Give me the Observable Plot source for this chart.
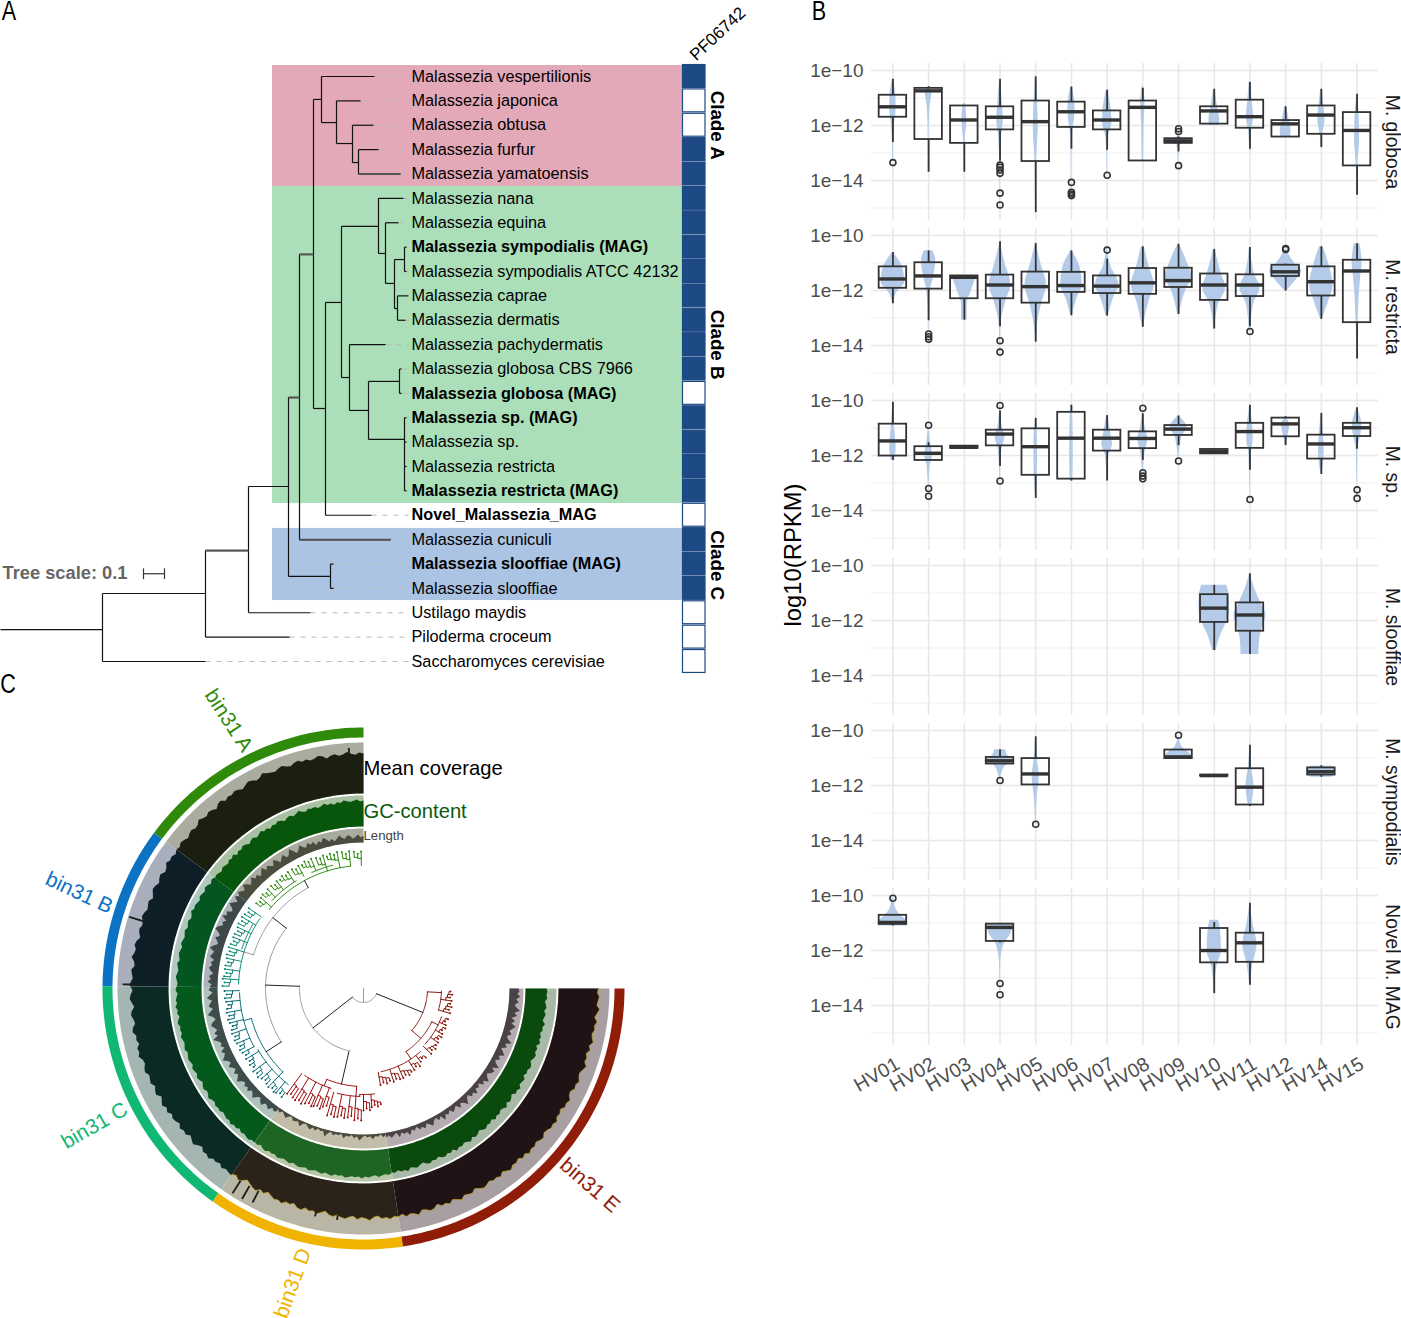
<!DOCTYPE html>
<html><head><meta charset="utf-8">
<script src="https://cdn.jsdelivr.net/npm/d3@7"></script>
<script src="https://cdn.jsdelivr.net/npm/@observablehq/plot@0.6"></script>
<style>
html,body{margin:0;padding:0;background:#fff;width:1401px;height:1318px;overflow:hidden;font-family:"Liberation Sans",sans-serif}
#page{position:relative;width:1401px;height:1318px}
#page svg{position:absolute;overflow:visible;background:transparent}
.abs{position:absolute;white-space:nowrap;transform:translate(-50%,-50%)}
</style></head><body><div id="page"></div>
<script>
// ---------- Panel A data ----------
const taxa = ["Malassezia vespertilionis","Malassezia japonica","Malassezia obtusa","Malassezia furfur","Malassezia yamatoensis","Malassezia nana","Malassezia equina","Malassezia sympodialis (MAG)","Malassezia sympodialis ATCC 42132","Malassezia caprae","Malassezia dermatis","Malassezia pachydermatis","Malassezia globosa CBS 7966","Malassezia globosa (MAG)","Malassezia sp. (MAG)","Malassezia sp.","Malassezia restricta","Malassezia restricta (MAG)","Novel_Malassezia_MAG","Malassezia cuniculi","Malassezia slooffiae (MAG)","Malassezia slooffiae","Ustilago maydis","Piloderma croceum","Saccharomyces cerevisiae"];
const boldTaxa = [7,13,14,17,18,20];
const pfAbsent = [1,2,13,18,22,23,24];
// tree: [x1, x2, row] horizontal branches
const branches = [[0,102,22.69],[102,205,24],[102,205,21.21],[205,289,23],[205,248,19.45],[248,310,22],[248,288,16.82],[288,330,20.51],[330,333,20],[330,333,21],[288,299,13.17],[299,390,19],[299,313,7.3],[313,321,0.94],[321,374,0],[321,336,1.89],[336,360,1],[336,352,2.75],[352,373,2],[352,358,3.53],[358,378,3],[358,400,4],[313,325,13.62],[325,371,18],[325,341,9.27],[341,378,6.15],[378,403,5],[378,385,7.26],[385,398,6],[385,394,8.49],[394,404,7.51],[404,406,7],[404,406,8],[394,397,9.52],[397,408,9],[397,405,10],[341,349,12.35],[349,385,11],[349,368,13.7],[368,399,12.51],[399,401,12],[399,401,13],[368,404,14.89],[404,406,14],[404,406,15],[404,406,16],[404,406,17]];
// tree: [x, row1, row2] vertical connectors
const connectors = [[102,21.21,24],[205,19.45,23],[248,16.82,22],[288,13.17,20.51],[330,20,21],[299,7.3,19],[313,0.94,13.62],[321,0,1.89],[336,1,2.75],[352,2,3.53],[358,3,4],[325,9.27,18],[341,6.15,12.35],[378,5,7.26],[385,6,8.49],[394,7.51,9.52],[404,7,8],[397,9,10],[349,11,13.7],[368,12.51,14.89],[399,12,13],[404,14,17]];
const thickBranches = [[358,400,4],[299,390,19],[299,313,7.3],[288,299,13.17],[205,248,19.45]];
const tipEnds = [374,360,373,378,400,403,398,406,406,408,405,385,401,401,406,406,406,406,371,390,333,333,310,289,205];
const cladeBands = [["#e4a9b8",-0.45,4.51],["#abdfb9",4.51,17.52],["#abc4e4",18.54,21.5]];
const cladeLabels = [["Clade A",2],["Clade B",11],["Clade C",20.05]];

// ---------- Panel B data (log10 values) ----------
const visits = ["HV01","HV02","HV03","HV04","HV05","HV06","HV07","HV08","HV09","HV10","HV11","HV12","HV14","HV15"];
const species = ["M. globosa","M. restricta","M. sp.","M. slooffiae","M. sympodialis","Novel M. MAG"];
// [visit number, whisker top, q3, median, q1, whisker low, ...outliers]
const globosaBoxes = [[1,-10.32,-10.9,-11.32,-11.7,-12.62,-13.35],[2,-10.59,-10.65,-10.74,-12.51,-13.7],[3,-11.29,-11.29,-11.8,-12.65,-13.7],[4,-10.32,-11.32,-11.7,-12.16,-13.3,-13.44,-13.52,-13.62,-13.74,-14.46,-14.89],[5,-10.23,-11.11,-11.86,-13.31,-15.17],[6,-10.6,-11.15,-11.5,-12.07,-12.86,-14.07,-14.43,-14.49,-14.55],[7,-10.72,-11.47,-11.8,-12.16,-12.9,-13.81],[8,-10.65,-11.11,-11.34,-13.29,-13.29],[9,-12.42,-12.48,-12.56,-12.65,-12.96,-12.12,-12.22,-13.46],[10,-10.68,-11.32,-11.47,-11.95,-11.95],[11,-10.44,-11.08,-11.68,-12.1,-12.86],[12,-11.32,-11.82,-11.94,-12.42,-12.42],[13,-10.68,-11.29,-11.62,-12.32,-12.8],[14,-10.86,-11.53,-12.18,-13.47,-14.54]];
const restrictaBoxes = [[1,-10.62,-11.14,-11.58,-11.92,-12.48],[2,-10.56,-10.99,-11.47,-11.95,-13.1,-13.58,-13.68,-13.77],[3,-11.47,-11.47,-11.52,-12.3,-13.08],[4,-10.23,-11.44,-11.8,-12.3,-13.32,-13.83,-14.24],[5,-10.29,-11.33,-11.86,-12.46,-13.88],[6,-10.56,-11.34,-11.82,-12.07,-12.92],[7,-10.86,-11.47,-11.84,-12.11,-12.93,-10.53],[8,-10.41,-11.2,-11.72,-12.14,-13.34],[9,-10.32,-11.19,-11.64,-11.89,-12.87],[10,-10.51,-11.4,-11.8,-12.36,-13.4],[11,-10.44,-11.43,-11.8,-12.22,-13.32,-13.49],[12,-11.04,-11.08,-11.32,-11.49,-12.02,-10.47,-10.51],[13,-10.41,-11.14,-11.68,-12.2,-13.05],[14,-10.3,-10.9,-11.29,-13.17,-14.49]];
const spBoxes = [[1,-10.06,-10.86,-11.47,-12.02,-12.18],[2,-11.54,-11.68,-11.92,-12.18,-12.18,-10.9,-13.2,-13.48],[3,-11.66,-11.66,-11.7,-11.74,-11.74],[4,-10.38,-11.08,-11.22,-11.65,-12.4,-10.18,-12.93],[5,-10.65,-11.03,-11.68,-12.72,-13.56],[6,-10.17,-10.43,-11.37,-12.86,-12.93],[7,-10.55,-11.08,-11.37,-11.84,-12.93],[8,-10.48,-11.14,-11.38,-11.75,-12.18,-10.28,-12.63,-12.75,-12.85],[9,-10.56,-10.91,-11.04,-11.27,-11.64,-12.2],[10,-11.76,-11.78,-11.85,-11.94,-11.96],[11,-10.17,-10.83,-11.13,-11.74,-12.54,-13.6],[12,-10.59,-10.64,-10.85,-11.32,-11.64],[13,-10.47,-11.26,-11.58,-12.13,-12.69],[14,-10.26,-10.83,-10.99,-11.31,-11.77,-13.25,-13.56]];
const slooffiaeBoxes = [[10,-10.72,-11.06,-11.55,-12.07,-13.09],[11,-10.3,-11.36,-11.8,-12.39,-13.24]];
const sympodialisBoxes = [[4,-10.7,-10.98,-11.1,-11.22,-11.22,-11.82],[5,-10.23,-11.02,-11.58,-11.98,-11.98,-13.41],[9,-10.71,-10.71,-10.96,-11.02,-11.05,-10.17],[10,-11.62,-11.62,-11.64,-11.66,-11.66],[11,-10.54,-11.39,-12.06,-12.71,-12.76],[13,-11.28,-11.36,-11.5,-11.62,-11.7]];
const novelBoxes = [[1,-10.72,-10.72,-10.98,-11.05,-11.11,-10.1],[4,-11.04,-11.04,-11.16,-11.67,-11.73,-13.2,-13.61],[10,-10.98,-11.2,-12,-12.45,-13.57],[11,-10.28,-11.37,-11.72,-12.43,-13.26]];
// [visit number, [log value, half width], ...]
const globosaViolins = [[1,[-10.3,.01],[-10.9,.08],[-11.4,.09],[-12,.04],[-12.6,.015],[-13.3,.01]],[2,[-10.6,.02],[-10.8,.09],[-11.4,.035],[-12.5,.01],[-13.7,.01]],[3,[-11.2,.03],[-11.8,.07],[-12.6,.02],[-13.6,.005]],[4,[-10.4,.02],[-11.3,.07],[-11.8,.09],[-12.4,.04],[-13.4,.01],[-14.9,.005]],[5,[-10.2,.01],[-11.2,.05],[-12,.07],[-13.2,.025],[-15.1,.005]],[6,[-10.6,.02],[-11.3,.1],[-11.7,.09],[-12.2,.035],[-13,.01],[-14.5,.005]],[7,[-10.7,.02],[-11.5,.12],[-11.9,.13],[-12.4,.04],[-13,.01],[-13.8,.005]],[8,[-10.6,.03],[-11.2,.06],[-12,.035],[-13.3,.02]],[9,[-12.1,.005],[-12.4,.03],[-12.56,.35],[-12.7,.05],[-13.4,.005]],[10,[-10.7,.02],[-11.3,.09],[-11.8,.15],[-12,.13]],[11,[-10.4,.02],[-11.1,.06],[-11.7,.1],[-12.2,.04],[-12.9,.01]],[12,[-11.3,.02],[-11.8,.1],[-12.2,.15],[-12.42,.14]],[13,[-10.7,.02],[-11.3,.07],[-11.8,.1],[-12.3,.04],[-12.8,.01]],[14,[-10.9,.01],[-11.7,.06],[-12.5,.07],[-13.4,.025],[-14.5,.005]]];
const restrictaViolins = [[1,[-10.62,.01],[-11.2,.28],[-11.7,.33],[-12.1,.1],[-12.48,.01]],[2,[-10.55,.12],[-10.9,.2],[-11.5,.14],[-12,.05],[-13,.01],[-13.77,.004]],[3,[-11.47,.35],[-12,.2],[-12.5,.08],[-13.08,.08]],[4,[-10.25,.005],[-11,.14],[-11.8,.3],[-12.4,.16],[-13.3,.02],[-14.2,.003]],[5,[-10.3,.01],[-11,.14],[-11.8,.3],[-12.5,.16],[-13.3,.04],[-13.88,.01]],[6,[-10.56,.02],[-11.2,.25],[-11.8,.3],[-12.3,.15],[-12.92,.02]],[7,[-10.5,.01],[-11.1,.1],[-11.8,.33],[-12.3,.17],[-12.93,.03]],[8,[-10.41,.04],[-11.1,.17],[-11.8,.32],[-12.4,.17],[-13.34,.01]],[9,[-10.32,.02],[-11,.25],[-11.5,.37],[-12,.2],[-12.87,.02]],[10,[-10.5,.02],[-11.4,.2],[-11.9,.32],[-12.5,.12],[-13.4,.02]],[11,[-10.44,.02],[-11.4,.13],[-11.9,.28],[-12.5,.1],[-13.49,.02]],[12,[-10.5,.01],[-11,.25],[-11.3,.45],[-11.6,.3],[-12.02,.02]],[13,[-10.41,.05],[-11,.2],[-11.8,.33],[-12.4,.2],[-13.05,.02]],[14,[-10.3,.08],[-11,.14],[-11.5,.1],[-13,.03],[-14.49,.01]]];
const spViolins = [[1,[-10.1,.004],[-11,.05],[-11.7,.09],[-12.18,.05]],[2,[-10.9,.005],[-11.5,.05],[-12,.11],[-12.4,.04],[-13.48,.003]],[4,[-10.18,.005],[-11,.07],[-11.3,.14],[-11.8,.05],[-12.93,.005]],[5,[-10.65,.01],[-11.5,.05],[-12.2,.05],[-13.56,.004]],[6,[-10.17,.02],[-11.3,.05],[-12.3,.05],[-12.93,.03]],[7,[-10.55,.02],[-11.2,.1],[-11.6,.15],[-12,.05],[-12.93,.005]],[8,[-10.3,.005],[-11,.07],[-11.4,.14],[-11.9,.06],[-12.85,.005]],[9,[-10.56,.01],[-11,.24],[-11.3,.1],[-12.2,.005]],[11,[-10.17,.01],[-11,.08],[-11.4,.09],[-12,.03],[-13.6,.003]],[12,[-10.6,.02],[-10.9,.11],[-11.3,.06],[-11.64,.01]],[13,[-10.47,.005],[-11.3,.06],[-11.8,.08],[-12.69,.01]],[14,[-10.26,.01],[-10.9,.13],[-11.2,.11],[-11.8,.02],[-13.56,.003]]];
const slooffiaeViolins = [[10,[-10.72,.35],[-11.1,.42],[-11.6,.43],[-12.1,.33],[-12.6,.16],[-13.09,.05]],[11,[-10.3,.01],[-10.8,.12],[-11.4,.32],[-11.8,.45],[-12.3,.34],[-12.7,.27],[-13.24,.25]]];
const sympodialisViolins = [[4,[-10.7,.15],[-10.95,.25],[-11.1,.42],[-11.3,.14],[-11.82,.005]],[5,[-10.23,.005],[-11.1,.05],[-11.7,.1],[-12.4,.04],[-13.41,.01]],[9,[-10.17,.005],[-10.6,.1],[-10.9,.35],[-11.02,.35]],[11,[-10.54,.01],[-11.4,.05],[-12,.11],[-12.7,.05]],[13,[-11.3,.3],[-11.45,.41],[-11.7,.3]]];
const novelViolins = [[1,[-10.1,.03],[-10.4,.06],[-10.7,.2],[-11,.42],[-11.11,.4]],[4,[-11.04,.37],[-11.4,.3],[-11.8,.1],[-12.5,.015],[-13.6,.003]],[10,[-10.9,.12],[-11.2,.17],[-12,.2],[-12.6,.07],[-13.5,.01]],[11,[-10.28,.005],[-11,.08],[-11.8,.2],[-12.5,.08],[-13.26,.01]]];

// ---------- Panel C data ----------
const binNames = ["bin31 A","bin31 B","bin31 C","bin31 D","bin31 E"];
const binEdges = [0,53.4,89.5,144.7,188.7,270];   // degrees counter-clockwise from 12 o'clock
const coverageA = [40,41,39,40,42,40,39,41,40,38,41,42,40,39,41,40,42,41,39,40,42,41,39,40,41,43,40,39,41,42,40,38,40,41,39,40,38,41,40,37,39,40,38,39,41,38,37,39,38,36,38,39,37,38];
const coverageB = [38,36,38,37,39,36,35,38,37,35,37,38,36,34,37,36,35,37,38,36,35,37,36,34,37,38,36,37,39,36,35,38,37,36,38,39];
const coverageC = [38,36,38,39,37,35,38,39,37,36,39,40,37,38,36,39,38,40,37,36,38,39,36,37,38,35,37,38,34,36,38,35,37,34,36,35,33,36,34,35,32,34,36,33,31,34,33,35,32,33,31,34,32,33,34];
const coverageD = [33,31,34,32,29,31,33,34,31,33,30,32,34,33,35,32,33,31,34,35,32,34,33,35,33,31,34,35,33,35,36,34,33,36,34,35,37,34,33,36,35,37,35,36];
const coverageE = [36,34,37,35,36,38,34,35,37,36,33,36,35,37,34,36,38,35,36,37,34,36,38,37,35,37,36,38,35,37,39,36,37,35,38,36,39,37,38,36,38,39,36,37,39,38,40,37,38,36,39,38,40,37,36,39,38,40,38,37,39,41,38,39,37,40,38,41,39,38,40,39,41,38,40,42,39,40,41,39,40];
const gcA = [26,25,27,26,25,26,27,25,26,24,26,25,27,25,24,26,25,26,24,25,27,25,24,26,25,23,25,26,24,25,23,25,24,26,24,23,25,24,22,24,25,23,24,22,25,23,24,22,23,24,22,23,24,23];
const gcB = [24,25,23,25,26,24,25,26,24,25,26,25,27,25,24,26,25,24,26,25,24,25,26,24,25,26,25,24,26,25,24,25,26,25,24,25];
const gcC = [25,26,24,25,26,25,27,25,26,24,26,27,25,26,25,27,26,25,26,27,25,26,27,26,25,27,26,25,27,26,24,26,27,25,26,28,26,25,27,26,27,25,26,27,26,28,26,27,25,27,26,27,28,26,27];
const gcD = [26,27,25,27,28,26,27,26,28,27,26,27,28,26,27,28,27,26,28,27,26,27,28,26,27,28,26,27,26,28,27,26,27,26,28,26,27,26,25,27,26,25,26,25];
const gcE = [24,25,23,25,24,26,23,24,25,23,22,24,25,23,24,22,24,25,23,24,22,25,23,24,22,23,25,22,24,23,21,23,24,22,23,21,24,22,23,21,22,24,21,23,22,20,23,22,24,21,22,23,20,22,21,23,22,20,22,23,21,22,20,23,21,22,20,22,21,23,20,21,22,20,22,21,20,22,21,22,21];
const lengthA = [7,5,8,6,4,7,8,5,6,9,6,4,7,5,8,10,6,8,5,9,7,10,6,8,11,7,5,9,12,7,6,10,8,5,9,11,6,8,10,7,12,9,6,10,8,12,9,7,11,13,8,10,12,9];
const lengthB = [9,12,7,10,13,8,6,11,9,13,7,10,8,12,14,9,7,11,8,6,10,13,8,9,11,6,9,7,10,8,5,9,7,10,6,8];
const lengthC = [7,9,5,8,11,6,8,10,6,9,12,7,5,9,11,8,6,10,7,13,9,6,8,5,10,7,9,12,8,6,10,7,5,9,6,8,11,7,5,8,6,9,5,7,10,6,4,7,9,5,6,8,4,6,5];
const lengthD = [2,4,1,3,5,2,1,4,3,2,6,2,1,3,5,2,4,1,3,2,7,3,1,4,2,3,1,5,2,3,1,4,2,6,3,1,3,2,5,2,3,1,4,2];
const lengthE = [5,3,6,4,2,7,3,5,4,8,3,5,2,6,4,7,3,5,8,4,2,6,3,9,4,6,3,7,5,3,8,4,6,10,5,3,7,5,9,4,6,3,8,5,10,6,4,7,9,5,11,6,4,8,5,10,7,4,9,6,12,7,5,9,6,8,11,6,9,5,10,7,12,8,6,10,7,11,8,10,9];
// coverage spikes: [angle, tip radius]
const coverageSpikes = [[3.5,241],[73,245],[89,241],[147.4,243],[150,243],[152.6,241],[168,233],[173.5,233]];
// backbone of the contig tree: [colour group, radius, angle from, angle to]
const treeArcs = [["root",14,128,248],["root",64,88,165.5],["root",98,52,123],["root",115,28.7,73],
 ["A",123,6,50],["A",127,14,24],["A",127,32,46],["B",125,56,88],["B",128,60,72],["C",116,105,136],["C",124,92,118],["C",122,120,142],
 ["D",98,158,176],["D",105,146,162],["D",108,166,178],["D",106,178,186],["E",64,229,267],["E",78,254,268],["E",76,214,244],["E",85,192,222],["E",83,228,250]];
// radial branches: [colour group, angle, radius from, radius to]
const treeLinks = [["root",180,0,14],["link",128,14,64],["link",248,14,64],["link",88,64,98],["link",167,64,98],["link",52,98,115],["link",123,98,116],["link",28.7,115,123],["root",73,115,125],
 ["C",105,116,124],["C",136,116,122],["D",158,98,105],["D",176,98,108],["D",178,108,106],["E",267,64,78],["E",229,64,76],["E",214,76,85],["E",244,76,83]];
// leaf clusters: [colour group, parent radius, cluster radius, tip radius, [leaf angles]]
const leafClusters = [
 ["A",123,130,137,[1,2.5,4]],["A",123,130,138,[6,7.5,9]],["A",123,131,139,[11,12.5,14,15.5]],["A",123,130,139,[17,18.5,20]],["A",127,132,140,[22,23.5,25,26.5]],["A",127,131,139,[28,29.5,31]],["A",127,132,139,[33,34.5,36,37.5]],["A",127,131,138,[39,40.5,42]],["A",127,132,138,[44,45.5,47]],["A",123,130,137,[48.5,50,51.5]],
 ["B",125,132,140,[55,56.5,58]],["B",125,133,141,[59.5,61,62.5]],["B",125,132,140,[64,65.5,67]],["B",125,133,140,[68.5,70,71.5]],["B",125,132,141,[73,74.5,76]],["B",125,133,140,[77.5,79,80.5]],["B",125,132,140,[82,83.5,85]],["B",125,133,141,[86,87.5,89]],
 ["C",124,131,139,[91,92.5,94]],["C",124,132,138,[95.5,97,98.5]],["C",124,131,139,[100,101.5,103]],["C",124,131,138,[104.5,106,107.5]],["C",124,132,139,[109,110.5,112]],["C",124,131,138,[113.5,115,116.5]],["C",124,131,137,[118,119.5]],["C",122,130,137,[121,122.5,124,125.5]],["C",122,130,138,[127,128.5,130]],["C",122,129,136,[131.5,133,134.5]],["C",122,130,137,[136,137.5,139]],["C",122,129,136,[140,141.5,143]],
 ["D",105,118,130,[144,145.5,147]],["D",105,118,131,[148.5,150,151.5]],["D",105,117,129,[153,154.5,156]],["D",105,116,128,[157,158.5,160]],["D",105,114,125,[161,162.5]],["D",108,120,132,[164,165.5,167]],["D",108,120,131,[168.5,170,171.5]],["D",108,119,130,[173,174.5]],["D",108,120,132,[176,177.5,179]],["D",106,113,122,[180,181.5,183]],["D",106,112,119,[184,185.5,187,188.5]],
 ["E",85,90,98,[190,192,194,196]],["E",85,90,98,[198,200,202]],["E",85,91,98,[204,206,208,210]],["E",85,90,96,[212,214,216]],["E",85,89,93,[218,220,222]],["E",83,88,94,[226,228,230,232]],["E",83,87,92,[234,236,238]],["E",83,87,91,[240,242,244]],["E",83,86,90,[246,248,250]],["E",78,83,90,[254,256,258,260]],["E",78,83,89,[262,264,266,268]]];
const ringLabels = [["Mean coverage",214],["GC-content",176],["Length",153]];

// ---------- styles ----------
const base = {fontFamily:'"Liberation Sans",sans-serif',background:"transparent"};
const page = document.getElementById("page");
function place(svg,left,top){svg.style.left=left+"px";svg.style.top=top+"px";page.appendChild(svg);}
function note(txt,x,y,css){const d=document.createElement("div");d.className="abs";d.textContent=txt;d.style.left=x+"px";d.style.top=y+"px";d.style.cssText+=css;page.appendChild(d);}

// ---------- Panel A ----------
const rows = taxa.map((name,row)=>({name,row,bold:boldTaxa.includes(row),end:tipEnds[row],absent:pfAbsent.includes(row)}));
const A = Plot.plot({
  width:760,height:680,margin:0,style:base,
  x:{domain:[0,760],range:[0,760],axis:null},
  y:{domain:[0,24],range:[76,661],axis:null},
  marks:[
    Plot.rect(cladeBands,{x1:()=>272,x2:()=>682,y1:d=>d[1],y2:d=>d[2],fill:d=>d[0]}),
    Plot.link(rows,{x1:"end",x2:()=>408,y1:"row",y2:"row",stroke:"#b9b9b9",strokeWidth:1,strokeDasharray:"5,6"}),
    Plot.link(branches,{x1:d=>d[0],x2:d=>d[1],y1:d=>d[2],y2:d=>d[2],stroke:"#111",strokeWidth:1.2}),
    Plot.link(connectors,{x1:d=>d[0],x2:d=>d[0],y1:d=>d[1],y2:d=>d[2],stroke:"#111",strokeWidth:1.2}),
    Plot.link(thickBranches,{x1:d=>d[0],x2:d=>d[1],y1:d=>d[2],y2:d=>d[2],stroke:"#555",strokeWidth:2}),
    Plot.rect(rows,{x1:()=>682.5,x2:()=>705,y1:d=>d.row-.47,y2:d=>d.row+.47,fill:d=>d.absent?"#ffffff":"#1d4a84",stroke:"#1d4a84",strokeWidth:1.2}),
    Plot.text(rows.filter(d=>!d.bold),{x:()=>411,y:"row",text:"name",textAnchor:"start",fontSize:16.25,fill:"#000"}),
    Plot.text(rows.filter(d=>d.bold),{x:()=>411,y:"row",text:"name",textAnchor:"start",fontSize:16.25,fontWeight:"bold",fill:"#000"}),
    Plot.text(cladeLabels,{x:()=>717,y:d=>d[1],text:d=>d[0],rotate:90,fontSize:18.8,fontWeight:"bold",fill:"#000"}),
    Plot.text(["PF06742"],{x:()=>692,y:()=>-0.78,text:d=>d,rotate:-43,textAnchor:"start",fontSize:17,fill:"#000"}),
    Plot.text(["Tree scale: 0.1"],{x:()=>2,y:()=>20.38,text:d=>d,textAnchor:"start",fontSize:18.3,fontWeight:"bold",fill:"#666"}),
    Plot.link([[143,164]],{x1:d=>d[0],x2:d=>d[1],y1:()=>20.4,y2:()=>20.4,stroke:"#333",strokeWidth:1.2}),
    Plot.link([143,164],{x1:d=>d,x2:d=>d,y1:()=>20.18,y2:()=>20.62,stroke:"#333",strokeWidth:1.2})
  ]
});
place(A,0,0);

// ---------- Panel B ----------
const boxSets=[globosaBoxes,restrictaBoxes,spBoxes,slooffiaeBoxes,sympodialisBoxes,novelBoxes];
const violinSets=[globosaViolins,restrictaViolins,spViolins,slooffiaeViolins,sympodialisViolins,novelViolins];
const boxes=boxSets.flatMap((s,k)=>s.map(r=>({facet:species[k],i:r[0],top:r[1],q3:r[2],med:r[3],q1:r[4],low:r[5]})));
const outliers=boxSets.flatMap((s,k)=>s.flatMap(r=>r.slice(6).map(y=>({facet:species[k],i:r[0],y}))));
const violins=violinSets.flatMap((s,k)=>s.flatMap(r=>r.slice(1).map(p=>({facet:species[k],i:r[0],key:k+"-"+r[0],y:p[0],w:p[1]}))));
const halfBox=.385;
const B = Plot.plot({
  width:621,height:1100,marginLeft:91,marginRight:23,marginTop:63,marginBottom:55,style:base,
  x:{domain:[.4,14.6],axis:null},
  y:{domain:[-15.455,-9.745],axis:null},
  fy:{domain:species,axis:null,paddingInner:8/165,paddingOuter:0,label:null},
  marks:[
    Plot.ruleY([-11,-13,-15],{stroke:"#f0f0f0",strokeWidth:1.2}),
    Plot.ruleY([-10,-12,-14],{stroke:"#e8e8e8",strokeWidth:1.6}),
    Plot.ruleX(d3.range(1,15),{stroke:"#e8e8e8",strokeWidth:1.6}),
    Plot.areaX(violins,{x1:d=>d.i-d.w,x2:d=>d.i+d.w,y:"y",z:"key",fy:"facet",fill:"#b3cbe8",curve:"monotone-y"}),
    Plot.ruleX(boxes,{x:"i",y1:"top",y2:"q3",fy:"facet",stroke:"#333",strokeWidth:1.8}),
    Plot.ruleX(boxes,{x:"i",y1:"q1",y2:"low",fy:"facet",stroke:"#333",strokeWidth:1.8}),
    Plot.rect(boxes,{x1:d=>d.i-halfBox,x2:d=>d.i+halfBox,y1:"q1",y2:"q3",fy:"facet",fill:"none",stroke:"#333",strokeWidth:1.8}),
    Plot.ruleY(boxes,{y:"med",x1:d=>d.i-halfBox,x2:d=>d.i+halfBox,fy:"facet",stroke:"#333",strokeWidth:3.4}),
    Plot.dot(outliers,{x:"i",y:"y",fy:"facet",r:3,fill:"none",stroke:"#333",strokeWidth:1.6}),
    Plot.axisY({ticks:[-10,-12,-14],tickFormat:d=>"1e\u2212"+(-d),tickSize:0,tickPadding:8,fontSize:19,color:"#4d4d4d",label:null}),
    Plot.axisX({ticks:d3.range(1,15),tickFormat:i=>visits[i-1],tickRotate:-30,tickSize:0,tickPadding:17,dx:5,fontSize:19.5,color:"#4d4d4d",label:null}),
    Plot.text(species,{fy:d=>d,text:d=>d,frameAnchor:"right",textAnchor:"middle",dx:14,rotate:90,fontSize:19.3,fill:"#1a1a1a"})
  ]
});
place(B,780,0);
note("log10(RPKM)",793,555,"font-size:23.8px;color:#000;transform:translate(-50%,-50%) rotate(-90deg)");

// ---------- Panel C ----------
const toX=(a,r)=>-r*Math.sin(a*Math.PI/180), toY=(a,r)=>-r*Math.cos(a*Math.PI/180);
const polys=[];let pid=0;
function pushPoly(col,pts){const id=pid++;pts.forEach(([a,r])=>polys.push({id,col,x:toX(a,r),y:toY(a,r)}));}
function arcPts(a1,a2,r){const n=Math.max(1,Math.ceil(Math.abs(a2-a1)));return d3.range(n+1).map(k=>[a1+(a2-a1)*k/n,r]);}
function sector(col,a1,a2,r1,r2){pushPoly(col,[...arcPts(a1,a2,r2),...arcPts(a2,a1,r1)]);}
function profilePts(a1,a2,rBase,vals){const n=vals.length-1;return vals.map((h,k)=>[a1+(a2-a1)*k/n,rBase+h]);}
function profile(col,a1,a2,rBase,vals){pushPoly(col,[...profilePts(a1,a2,rBase,vals),...arcPts(a2,a1,rBase)]);}
const binCols=["#2f8a0c","#0b72c4","#10b874","#f0b400","#8f1d08"];
const covBg=["#a9ac9f","#a8aebb","#a4b5b2","#b9b6a6","#a89fa3"],covDark=["#1b1f10","#0e1e26","#0c2a24","#2b2319","#1f1315"];
const gcBg=["#a9c0a3","#b0c8c0","#aec4b6","#b8c7a8","#a9b9a8"],gcDark=["#07560b","#045620","#045a1c","#1e6422","#0a4a0c"];
const lenBg=["#a8ac9f","#adb2bd","#afc2bc","#c2bda9","#b5acb1"],lenDark=["#4a4c40","#3f4848","#3f4c4c","#4a4a3e","#4a4345"];
const covs=[coverageA,coverageB,coverageC,coverageD,coverageE],gcs=[gcA,gcB,gcC,gcD,gcE],lens=[lengthA,lengthB,lengthC,lengthD,lengthE];
binNames.forEach((_,b)=>{
  const a1=binEdges[b],a2=binEdges[b+1];
  sector(binCols[b],a1,a2,251,261);
  sector(covBg[b],a1,a2,195,246);
  profile(covDark[b],a1,a2,195,covs[b]);
  sector(gcBg[b],a1,a2,162,193);
  profile(gcDark[b],a1,a2,162,gcs[b]);
  sector(lenBg[b],a1,a2,146,160);
  profile(lenDark[b],a1,a2,146,lens[b]);
});
const treeCols={root:"#999",link:"#222",A:"#2e8b0e",B:"#0f8a78",C:"#0c6e78",D:"#a01010",E:"#8b1a10"};
const lines=[];let lid=0;
function pushLine(col,pts,arr=lines){const id=lid++;pts.forEach(([a,r])=>arr.push({id,col,x:toX(a,r),y:toY(a,r)}));}
treeArcs.forEach(([g,r,a1,a2])=>pushLine(treeCols[g],arcPts(a1,a2,r)));
treeLinks.forEach(([g,a,r1,r2])=>pushLine(treeCols[g],[[a,r1],[a,r2]]));
const tips=[];
leafClusters.forEach(([g,rp,rc,rt,as])=>{
  const col=treeCols[g];
  pushLine(col,[[as[0],rp],[as[0],rc]]);
  as.forEach((a,k)=>{
    const rk=rc+k*1.3, tip=rt-(k%2)*2;
    pushLine(col,[[a,rk],[a,tip]]);
    tips.push({col,x:toX(a,tip),y:toY(a,tip)});
    if(k<as.length-1) pushLine(col,[[a,rk],[as[k+1],rk],[as[k+1],rk+1.3]]);
  });
});
const fringe=[];
[3,4].forEach(b=>pushLine("#c9a412",profilePts(binEdges[b],binEdges[b+1],195,covs[b]),fringe));
const binLabels=[[26.7,300,57],[71.4,300,25],[117,302,-30],[166.5,303,-70],[229,300,41]];
const C = Plot.plot({
  width:700,height:648,margin:0,style:base,
  x:{domain:[-363,337],range:[0,700],axis:null},
  y:{domain:[-318,330],range:[0,648],axis:null},
  marks:[
    Plot.line(polys,{x:"x",y:"y",z:"id",fill:"col",stroke:"none"}),
    Plot.line(fringe,{x:"x",y:"y",z:"id",stroke:"col",strokeWidth:.7}),
    Plot.link(coverageSpikes,{x1:d=>toX(d[0],228),y1:d=>toY(d[0],228),x2:d=>toX(d[0],d[1]),y2:d=>toY(d[0],d[1]),stroke:"#1c1c18",strokeWidth:1.8}),
    Plot.line(lines,{x:"x",y:"y",z:"id",stroke:"col",strokeWidth:1}),
    Plot.dot(tips,{x:"x",y:"y",r:1,fill:"col",stroke:"none"}),
    Plot.text(ringLabels.slice(0,1),{x:()=>0,y:d=>-d[1]-6,text:d=>d[0],textAnchor:"start",fontSize:20.2,fill:"#000"}),
    Plot.text(ringLabels.slice(1,2),{x:()=>0,y:d=>-d[1]-1,text:d=>d[0],textAnchor:"start",fontSize:20.2,fill:"#0b5a0c"}),
    Plot.text(ringLabels.slice(2),{x:()=>0,y:d=>-d[1],text:d=>d[0],textAnchor:"start",fontSize:13.2,fill:"#444"}),
    Plot.text(binLabels,{x:d=>toX(d[0],d[1]),y:d=>toY(d[0],d[1]),text:(d,i)=>binNames[i],rotate:d=>d[2],fontSize:21,fill:(d,i)=>binCols[i]})
  ]
});
place(C,0,670);

const letterCss='font-size:27px;line-height:22px;color:#000;transform:translate(-50%,-50%) scaleX(.8);';
note("A",9,11,letterCss);
note("B",819,11,letterCss);
note("C",8,684,letterCss);
</script></body></html>
